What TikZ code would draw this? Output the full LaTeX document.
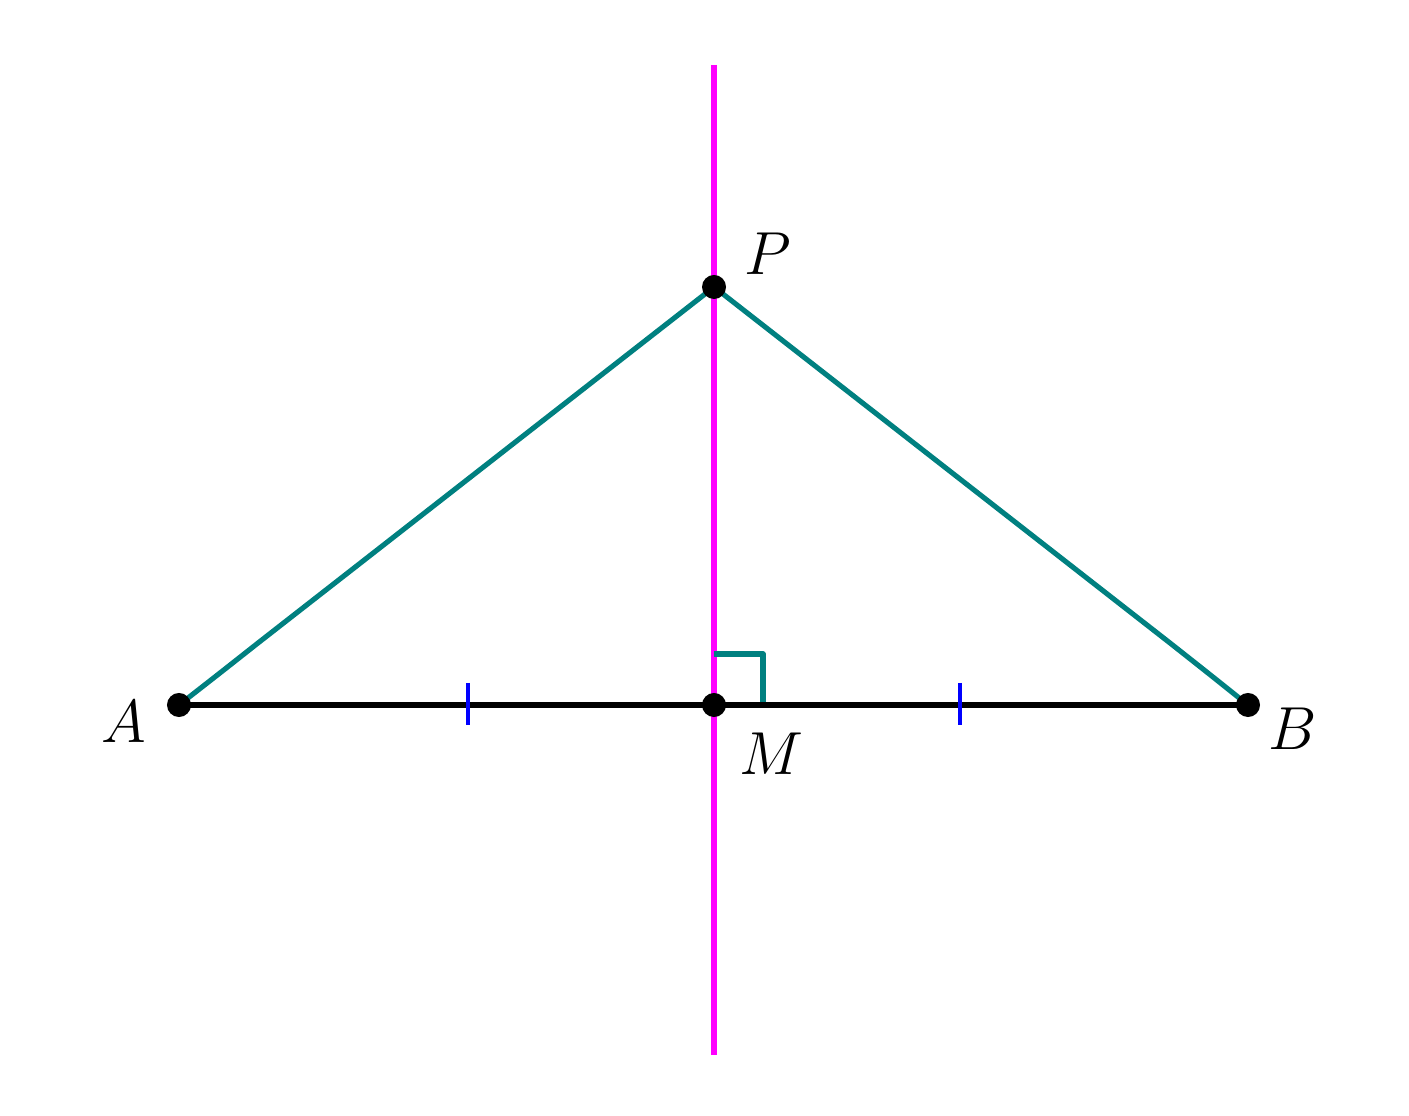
\documentclass[tikz,border=0pt]{standalone}
\begin{document}
\begin{tikzpicture}[x=0.01cm,y=-0.01cm,
  dot/.style={circle,fill=black,inner sep=0pt,minimum size=0.24cm},
  lab/.style={font=\fontsize{18.5}{22}\selectfont},
  sideline/.style={draw=tealc,line width=1.45pt,line join=round},
  baseline/.style={draw=black,line width=1.45pt},
  perp/.style={draw=magc,line width=1.45pt},
  tickmark/.style={draw=blue,line width=0.9pt}]
\definecolor{tealc}{RGB}{0,128,128}
\definecolor{magc}{RGB}{255,0,255}
\useasboundingbox (0,0) rectangle (1409,1116);
\fill[white] (0,0) rectangle (1409,1116);
% coordinates
\coordinate (Ac) at (179,705);
\coordinate (Bc) at (1248,705);
\coordinate (Mc) at (714,705);
\coordinate (Pc) at (714,287);
\coordinate (top) at (714,65);
\coordinate (bot) at (714,1055);
\coordinate (a1) at (258,643);
\coordinate (a2) at (220,673);
\coordinate (b1) at (1170,643);
\coordinate (b2) at (1208,673);
\coordinate (t1a) at (468,683);
\coordinate (t1b) at (468,725);
\coordinate (t2a) at (960,683);
\coordinate (t2b) at (960,725);
\coordinate (r1) at (714,654);
\coordinate (r2) at (763,654);
\coordinate (r3) at (763,705);
% lines
\draw[perp] (top) -- (bot);
\draw[sideline] (Pc) -- (a1) .. controls (a2) .. (Ac);
\draw[sideline] (Pc) -- (b1) .. controls (b2) .. (Bc);
\draw[sideline] (r1) -- (r2) -- (r3);
\draw[baseline] (Ac) -- (Bc);
\draw[tickmark] (t1a) -- (t1b);
\draw[tickmark] (t2a) -- (t2b);
% dots
\node[dot] (A) at (Ac) {};
\node[dot] (B) at (Bc) {};
\node[dot] (M) at (Mc) {};
\node[dot] (P) at (Pc) {};
% labels
\node[lab] (LA) at (124,722) {$A$};
\node[lab] (LB) at (1293,729) {$B$};
\node[lab] (LM) at (771,754) {$M$};
\node[lab] (LP) at (768,254) {$P$};
\end{tikzpicture}
\end{document}
